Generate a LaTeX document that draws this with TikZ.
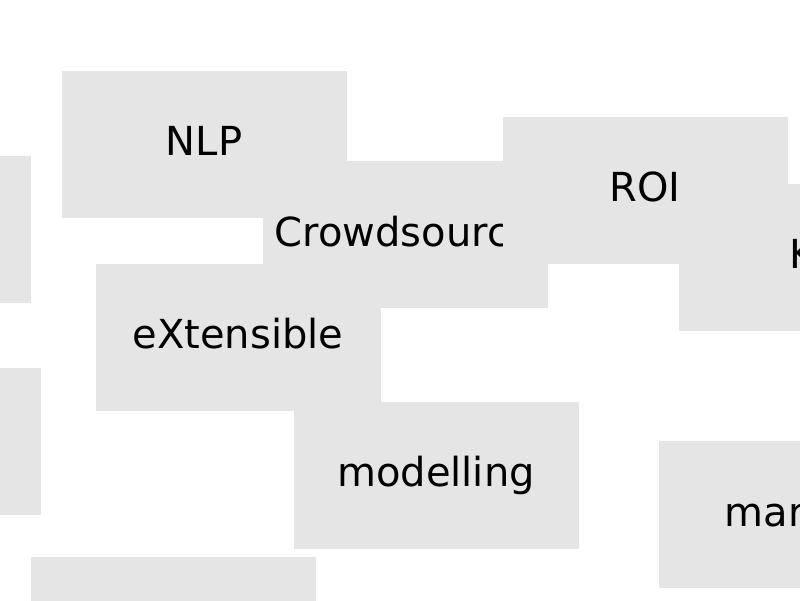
\documentclass[tikz,border=0pt]{standalone}
\usepackage{fontspec}
\setmainfont{DejaVu Sans}
\definecolor{boxgray}{RGB}{229,229,229}
\begin{document}
\begin{tikzpicture}[x=1pt,y=-1pt,
  tile/.style={fill=boxgray,draw=none,inner sep=0pt,minimum width=285pt,minimum height=147pt,anchor=north west},
  word/.style={inner sep=0pt,text=black,font=\fontsize{40}{48}\selectfont}]
\useasboundingbox (0,0) rectangle (800,600);
\clip (0,0) rectangle (800,600);
\node[tile] (l1) at (-254,156) {};
\node[tile] (nlp) at (62,71) {};
\node[word,anchor=base] (nlpt) at (204,155) {NLP};
\node[tile] (crowd) at (263,161) {};
\node[word,anchor=base west] (crowdt) at (274.5,246) {Crowdsourc};
\node[tile] (roi) at (503,117) {};
\node[word,anchor=base] (roit) at (645,201) {ROI};
\node[tile] (k) at (679,184) {};
\node[word,anchor=base west] (kt) at (789,268) {K};
\node[tile] (ext) at (96,264) {};
\node[word,anchor=base] (extt) at (238,348) {eXtensible};
\node[tile] (l2) at (-244,368) {};
\node[tile] (mod) at (294,402) {};
\node[word,anchor=base] (modt) at (436,486) {modelling};
\node[tile] (mar) at (659,441) {};
\node[word,anchor=base west] (mart) at (724.5,526) {mar};
\node[tile] (bot) at (31,557) {};
\end{tikzpicture}
\end{document}
